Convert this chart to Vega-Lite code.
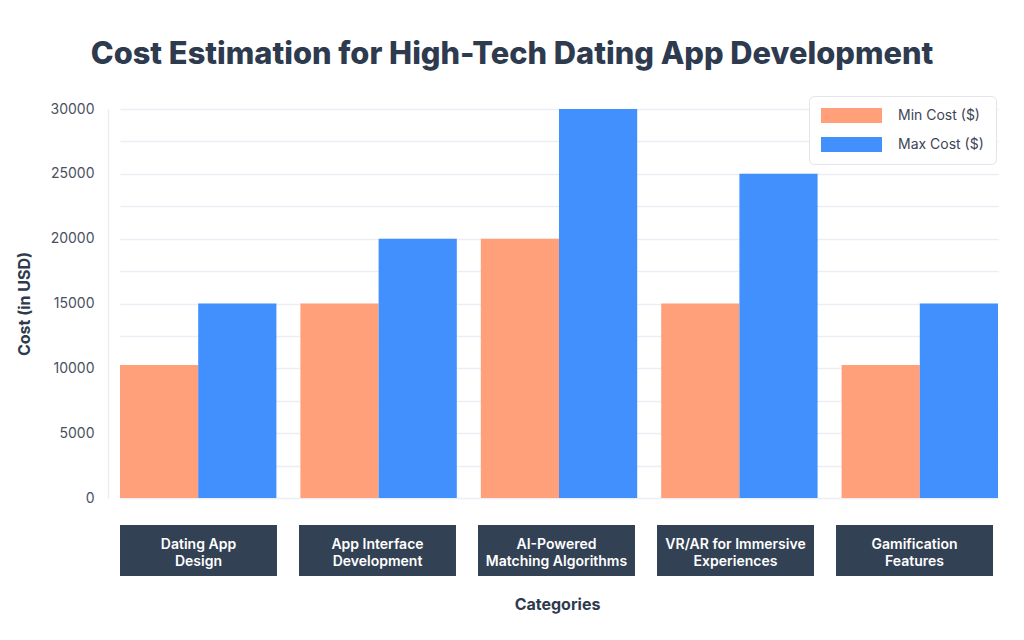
{
  "$schema": "https://vega.github.io/schema/vega-lite/v6.json",
  "padding": {"left": 16, "top": 38, "right": 20, "bottom": 10},
  "background": "white",
  "title": {"text": "Cost Estimation for High-Tech Dating App Development", "fontSize": 30.8, "font": "Inter", "fontWeight": 800, "color": "#2e3a4e", "anchor": "middle", "offset": 25, "dx": 5},
  "datasets": {
    "costs": [
      {"category": "Dating App Design", "series": "Min Cost ($)", "cost": 10250},
      {"category": "Dating App Design", "series": "Max Cost ($)", "cost": 15000},
      {"category": "App Interface Development", "series": "Min Cost ($)", "cost": 15000},
      {"category": "App Interface Development", "series": "Max Cost ($)", "cost": 20000},
      {"category": "AI-Powered Matching Algorithms", "series": "Min Cost ($)", "cost": 20000},
      {"category": "AI-Powered Matching Algorithms", "series": "Max Cost ($)", "cost": 30000},
      {"category": "VR/AR for Immersive Experiences", "series": "Min Cost ($)", "cost": 15000},
      {"category": "VR/AR for Immersive Experiences", "series": "Max Cost ($)", "cost": 25000},
      {"category": "Gamification Features", "series": "Min Cost ($)", "cost": 10250},
      {"category": "Gamification Features", "series": "Max Cost ($)", "cost": 15000}
    ],
    "cats": [
      {"category": "Dating App Design", "label": "Dating App\nDesign"},
      {"category": "App Interface Development", "label": "App Interface\nDevelopment"},
      {"category": "AI-Powered Matching Algorithms", "label": "AI-Powered\nMatching Algorithms"},
      {"category": "VR/AR for Immersive Experiences", "label": "VR/AR for Immersive\nExperiences"},
      {"category": "Gamification Features", "label": "Gamification\nFeatures"}
    ]
  },
  "vconcat": [
    {
      "width": 887,
      "height": 389,
      "data": {"name": "costs"},
      "mark": {"type": "bar"},
      "encoding": {
        "x": {"field": "category", "type": "nominal", "sort": null, "axis": null, "scale": {"range": [12, 890], "paddingInner": 0.133, "paddingOuter": 0}},
        "xOffset": {"field": "series", "type": "nominal", "sort": ["Min Cost ($)", "Max Cost ($)"]},
        "y": {
          "field": "cost", "type": "quantitative",
          "scale": {"domain": [0, 30000], "nice": false},
          "axis": {
            "values": [0, 2500, 5000, 7500, 10000, 12500, 15000, 17500, 20000, 22500, 25000, 27500, 30000],
            "labelExpr": "datum.value % 5000 === 0 ? datum.label : ''",
            "format": "d",
            "title": "Cost (in USD)",
            "titleFontSize": 16, "titleFontWeight": "bold", "titleColor": "#2e3a4e", "titlePadding": 18,
            "labelFontSize": 14, "labelColor": "#4a5060", "labelPadding": 14,
            "ticks": false, "tickSize": 0,
            "gridColor": "#eceef5", "gridWidth": 1.5,
            "domainColor": "#eceef5", "domainWidth": 1.5
          }
        },
        "color": {
          "field": "series", "type": "nominal",
          "scale": {"domain": ["Min Cost ($)", "Max Cost ($)"], "range": ["#FFA07A", "#4190FE"]},
          "legend": {
            "title": null, "orient": "none", "legendX": 701, "legendY": -13,
            "symbolType": "M-1,-0.25H1V0.25H-1Z", "symbolSize": 3721, "clipHeight": 15,
            "rowPadding": 14, "labelOffset": 16, "labelFontSize": 14, "labelColor": "#3d4455",
            "fillColor": "white", "strokeColor": "#e3e5ea", "cornerRadius": 5, "padding": 12,
            "symbolStrokeWidth": 0, "symbolOpacity": 1
          }
        }
      }
    },
    {
      "width": 887,
      "height": 51,
      "data": {"name": "cats"},
      "encoding": {
        "x": {
          "field": "category", "type": "nominal", "sort": null,
          "scale": {"range": [12, 885], "paddingInner": 0.123, "paddingOuter": 0},
          "axis": {"labels": false, "ticks": false, "domain": false, "grid": false, "title": "Categories", "titleFontSize": 16, "titleFontWeight": "bold", "titleColor": "#2e3a4e", "titlePadding": 20, "titleX": 449}
        }
      },
      "layer": [
        {"mark": {"type": "bar", "color": "#334155"}},
        {"mark": {"type": "text", "color": "white", "fontSize": 14, "fontWeight": 600, "lineBreak": "\n", "lineHeight": 17, "dy": -5.5}, "encoding": {"text": {"field": "label"}}}
      ]
    }
  ],
  "resolve": {"scale": {"x": "independent"}},
  "spacing": 20,
  "config": {"view": {"stroke": null}, "font": "Inter"}
}
